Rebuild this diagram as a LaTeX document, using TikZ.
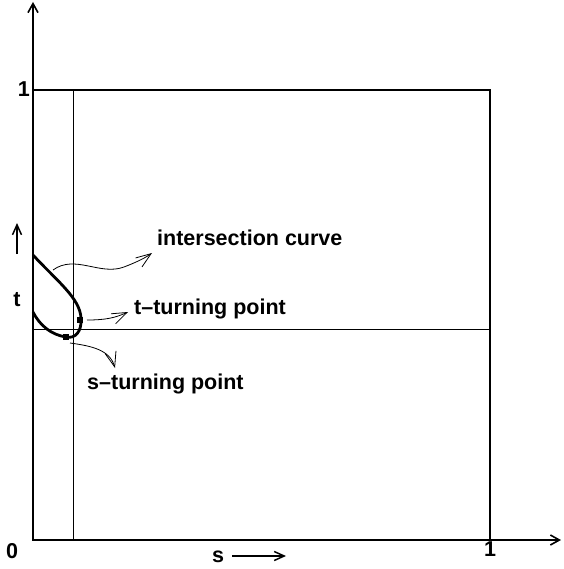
\documentclass[tikz,border=0pt]{standalone}
\usepackage{fontspec}
\setmainfont{Liberation Sans}
\usepackage{tikz}
\usetikzlibrary{arrows.meta,positioning}
\tikzset{
  axis/.style={line width=1.6pt,-{Straight Barb[length=9pt,width=10pt]}},
  frame/.style={line width=1.4pt},
  guide/.style={line width=0.6pt},
  loopcurve/.style={line width=2.8pt},
  turn/.style={fill=black,minimum size=6.5pt,inner sep=0pt},
  pointer/.style={line width=0.8pt,-{Straight Barb[length=15pt,width=11pt]}},
  dirarrow/.style={line width=1.5pt,-{Straight Barb[length=10pt,width=9pt]}},
  lbl/.style={font=\fontsize{21.5}{24}\selectfont\bfseries,inner sep=0pt},
}
\begin{document}
\begin{tikzpicture}[x=1pt,y=-1pt]
  \useasboundingbox (0,0) rectangle (563,569);
  % axes and unit square
  \coordinate (o) at (33,540);
  \coordinate (ytop) at (33,2);
  \coordinate (xend) at (561,540);
  \draw[axis] (o)--(ytop);
  \draw[axis] (o)--(xend);
  \draw[frame] (33,90) rectangle (490,540);
  \draw[guide] (73,90)--(73,540);
  \draw[guide] (33,329)--(490,329);
  % intersection curve
  \draw[loopcurve] (33,255) .. controls (56,280) and (80,298) .. (81,318)
    .. controls (82,332) and (75,339) .. (66,337)
    .. controls (52,335) and (40,326) .. (33,312);
  \node[turn] (tturn) at (80,320) {};
  \node[turn] (sturn) at (66,337) {};
  % labels
  \node[lbl,anchor=base west] (lblcurve) at (157,245) {intersection curve};
  \node[lbl,anchor=base west] (lbltt) at (134,314) {t--turning point};
  \node[lbl,anchor=base west] (lblst) at (87,389) {s--turning point};
  \node[lbl,anchor=base] (lbl0) at (12,558) {0};
  \node[lbl,anchor=base] (lblx1) at (490,556) {1};
  \node[lbl,anchor=base east] (lbly1) at (30,97) {1};
  \node[lbl,anchor=base] (lblt) at (17,306) {t};
  \node[lbl,anchor=base] (lbls) at (218,562) {s};
  % axis direction arrows
  \coordinate (tbot) at (17,254);
  \coordinate (ttip) at (17,223);
  \draw[dirarrow] (tbot)--(ttip);
  \coordinate (sbeg) at (232,556);
  \coordinate (sarr) at (286,556);
  \draw[dirarrow] (sbeg)--(sarr);
  % pointers to the labels
  \coordinate (c1) at (53,270);
  \coordinate (c1end) at (152,253);
  \draw[pointer] (c1) .. controls (75,254) and (100,276) .. (124,267)
    .. controls (137,262) and (145,258) .. (c1end);
  \coordinate (c2beg) at (87,320);
  \coordinate (c2end) at (128,312);
  \draw[pointer] (c2beg) .. controls (105,320) and (115,318) .. (c2end);
  \coordinate (c3beg) at (70,343);
  \coordinate (c3end) at (115,368);
  \draw[pointer] (c3beg) .. controls (92,346) and (110,350) .. (c3end);
\end{tikzpicture}
\end{document}
